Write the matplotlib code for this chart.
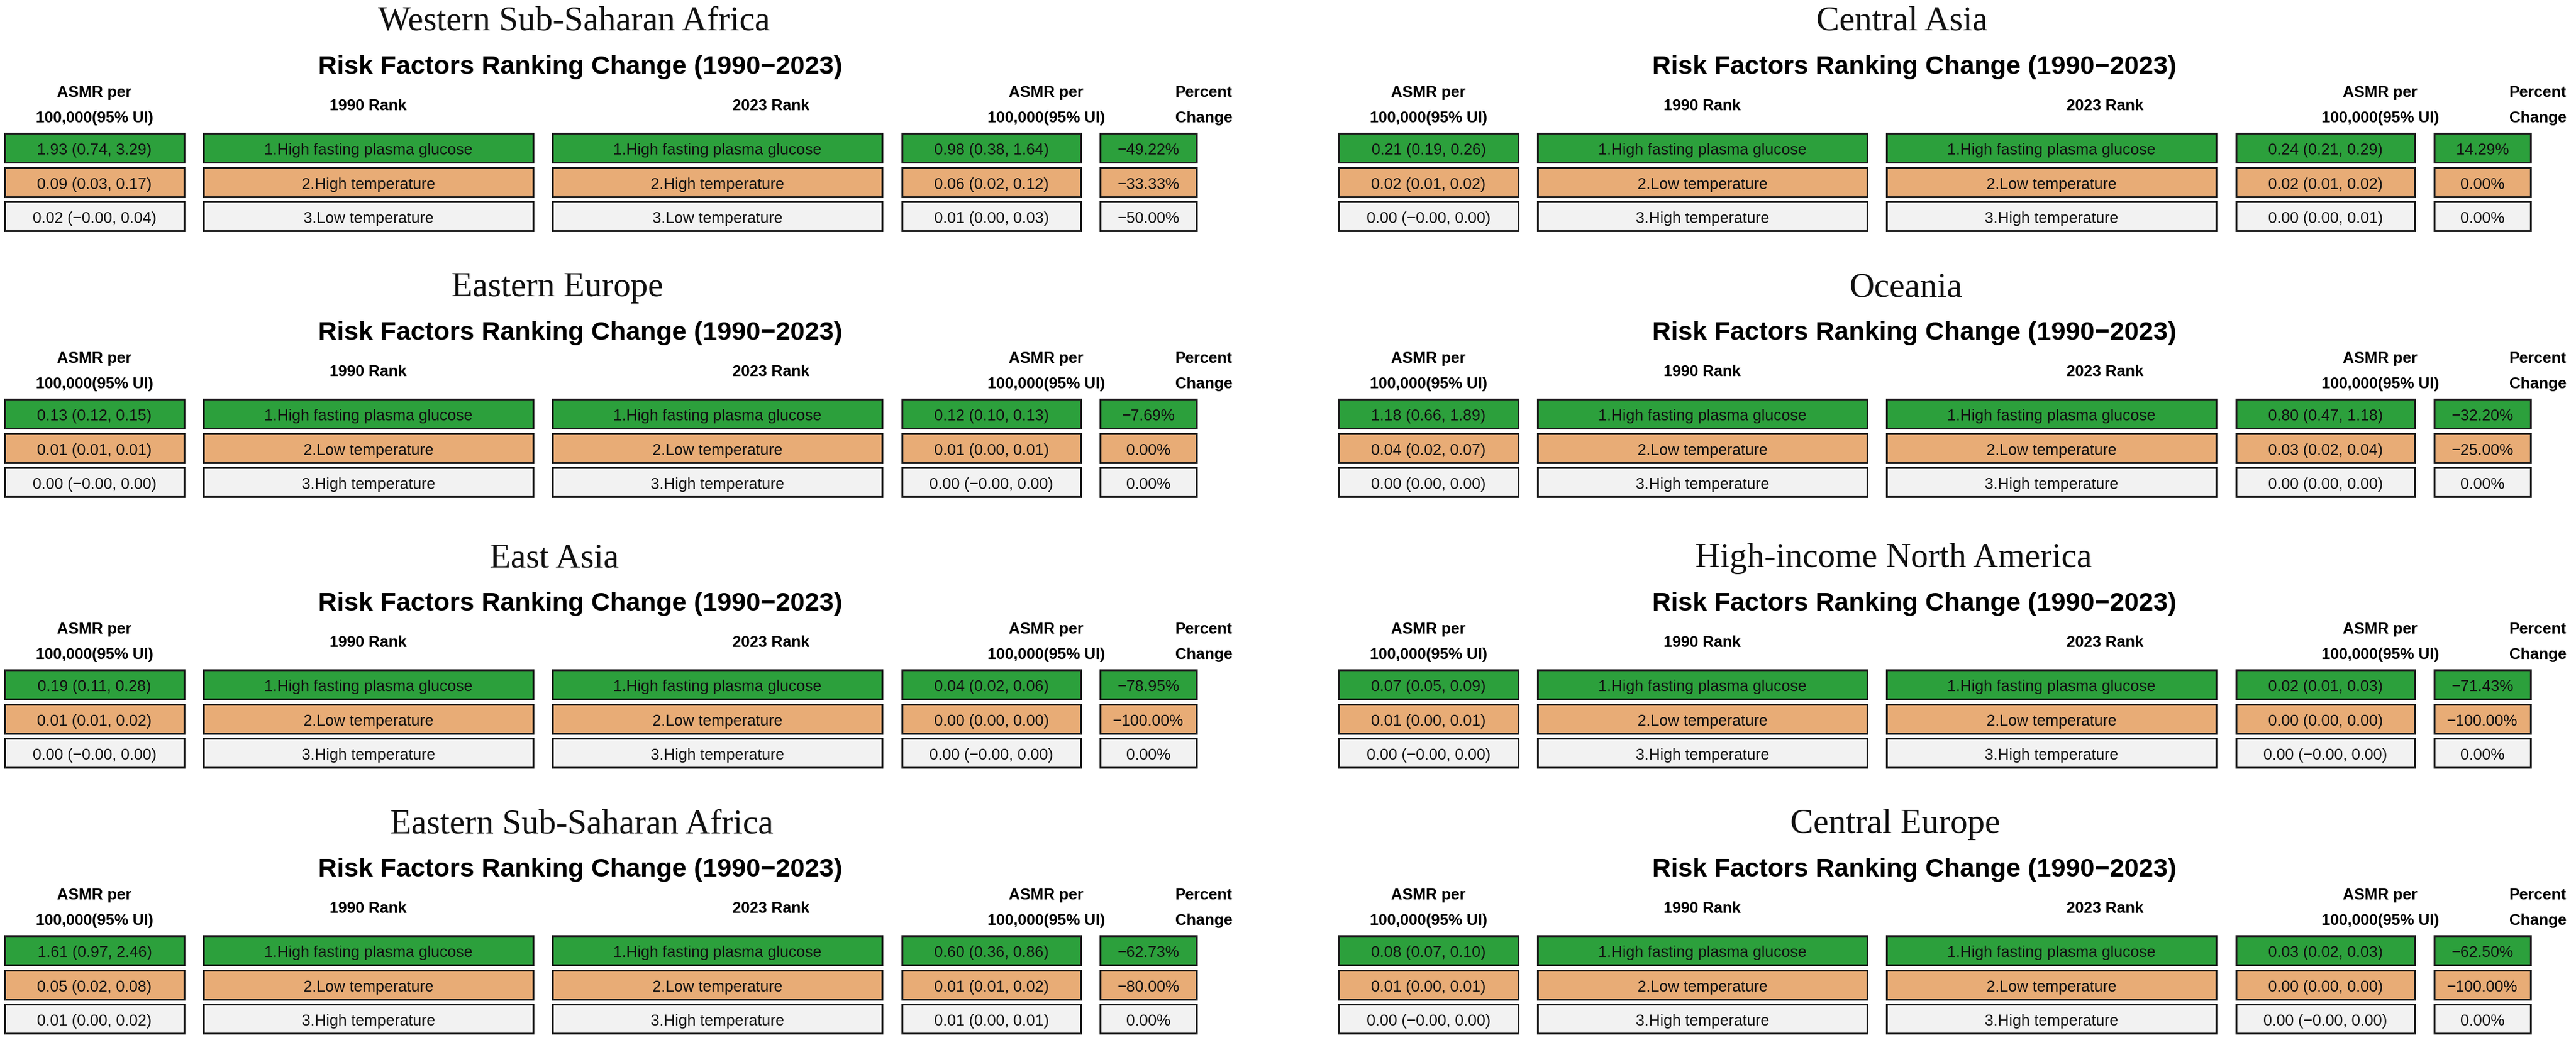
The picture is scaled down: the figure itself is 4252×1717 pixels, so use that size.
import matplotlib
matplotlib.use("Agg")
import matplotlib.pyplot as plt
from matplotlib.patches import Rectangle

# ---- data -------------------------------------------------------------
regions = ["Western Sub-Saharan Africa", "Eastern Europe", "East Asia",
           "Eastern Sub-Saharan Africa", "Central Asia", "Oceania",
           "High-income North America", "Central Europe"]

HFPG = "High fasting plasma glucose"
HT = "High temperature"
LT = "Low temperature"

rank_1990 = [[HFPG, HT, LT], [HFPG, LT, HT], [HFPG, LT, HT], [HFPG, LT, HT],
             [HFPG, LT, HT], [HFPG, LT, HT], [HFPG, LT, HT], [HFPG, LT, HT]]
rank_2023 = [[HFPG, HT, LT], [HFPG, LT, HT], [HFPG, LT, HT], [HFPG, LT, HT],
             [HFPG, LT, HT], [HFPG, LT, HT], [HFPG, LT, HT], [HFPG, LT, HT]]

# ASMR per 100,000 (value, lower, upper)
asmr_1990 = [
    [(1.93, 0.74, 3.29), (0.09, 0.03, 0.17), (0.02, -0.0, 0.04)],
    [(0.13, 0.12, 0.15), (0.01, 0.01, 0.01), (0.00, -0.0, 0.00)],
    [(0.19, 0.11, 0.28), (0.01, 0.01, 0.02), (0.00, -0.0, 0.00)],
    [(1.61, 0.97, 2.46), (0.05, 0.02, 0.08), (0.01, 0.00, 0.02)],
    [(0.21, 0.19, 0.26), (0.02, 0.01, 0.02), (0.00, -0.0, 0.00)],
    [(1.18, 0.66, 1.89), (0.04, 0.02, 0.07), (0.00, 0.00, 0.00)],
    [(0.07, 0.05, 0.09), (0.01, 0.00, 0.01), (0.00, -0.0, 0.00)],
    [(0.08, 0.07, 0.10), (0.01, 0.00, 0.01), (0.00, -0.0, 0.00)],
]
asmr_2023 = [
    [(0.98, 0.38, 1.64), (0.06, 0.02, 0.12), (0.01, 0.00, 0.03)],
    [(0.12, 0.10, 0.13), (0.01, 0.00, 0.01), (0.00, -0.0, 0.00)],
    [(0.04, 0.02, 0.06), (0.00, 0.00, 0.00), (0.00, -0.0, 0.00)],
    [(0.60, 0.36, 0.86), (0.01, 0.01, 0.02), (0.01, 0.00, 0.01)],
    [(0.24, 0.21, 0.29), (0.02, 0.01, 0.02), (0.00, 0.00, 0.01)],
    [(0.80, 0.47, 1.18), (0.03, 0.02, 0.04), (0.00, 0.00, 0.00)],
    [(0.02, 0.01, 0.03), (0.00, 0.00, 0.00), (0.00, -0.0, 0.00)],
    [(0.03, 0.02, 0.03), (0.00, 0.00, 0.00), (0.00, -0.0, 0.00)],
]
pct_change = [
    [-49.22, -33.33, -50.00],
    [-7.69, 0.00, 0.00],
    [-78.95, -100.00, 0.00],
    [-62.73, -80.00, 0.00],
    [14.29, 0.00, 0.00],
    [-32.20, -25.00, 0.00],
    [-71.43, -100.00, 0.00],
    [-62.50, -100.00, 0.00],
]

# ---- layout (pixels) --------------------------------------------------
W, H = 4252, 1717
col_x = [0, 2202]
row_y = [0, 439, 886, 1325]
title_x = [948, 920, 915, 960, 937, 944, 923, 926]
box_x = [(8, 304), (336, 880), (912, 1456), (1489, 1784), (1816, 1975)]
head_x = [156, 608, 1273, 1727, 1987]
row_tops = [220, 277, 333]
row_h = 48
row_colors = ["#2ca03c", "#e8ac76", "#f2f2f2"]
SANS = "Liberation Sans"
SERIF = "Liberation Serif"


def fmt_ci(v):
    s = f"{v[0]:.2f} ({v[1]:.2f}, {v[2]:.2f})"
    return s.replace("-", "\u2212")


def fmt_pct(p):
    return f"{p:.2f}%".replace("-", "\u2212")


fig = plt.figure(figsize=(W / 100, H / 100), dpi=100)
ax = fig.add_axes([0, 0, 1, 1])
ax.set_xlim(0, W)
ax.set_ylim(H, 0)
ax.axis("off")

for i, reg in enumerate(regions):
    x0 = col_x[i // 4]
    y0 = row_y[i % 4]
    top = y0 + row_tops[0]

    ax.text(x0 + title_x[i], top - 170, reg, ha="center", va="baseline",
            family=SERIF, fontsize=41, color="#111111")
    ax.text(x0 + 958, top - 98, "Risk Factors Ranking Change (1990\u22122023)",
            ha="center", va="baseline", family=SANS, fontsize=31,
            fontweight="bold")

    # column headers
    hdr = dict(ha="center", va="baseline", family=SANS, fontsize=18.5,
               fontweight="bold")
    for k in (0, 3):
        ax.text(x0 + head_x[k], top - 60, "ASMR per", **hdr)
        ax.text(x0 + head_x[k], top - 18, "100,000(95% UI)", **hdr)
    ax.text(x0 + head_x[1], top - 38, "1990 Rank", **hdr)
    ax.text(x0 + head_x[2], top - 38, "2023 Rank", **hdr)
    ax.text(x0 + head_x[4], top - 60, "Percent", **hdr)
    ax.text(x0 + head_x[4], top - 18, "Change", **hdr)

    for r in range(3):
        ry = y0 + row_tops[r]
        cells = [fmt_ci(asmr_1990[i][r]),
                 f"{r + 1}.{rank_1990[i][r]}",
                 f"{r + 1}.{rank_2023[i][r]}",
                 fmt_ci(asmr_2023[i][r]),
                 fmt_pct(pct_change[i][r])]
        for (bx0, bx1), label in zip(box_x, cells):
            ax.add_patch(Rectangle((x0 + bx0, ry), bx1 - bx0, row_h,
                                   facecolor=row_colors[r], edgecolor="#1a1a1a",
                                   linewidth=2.2))
            ax.text(x0 + (bx0 + bx1) / 2, ry + 35, label, ha="center",
                    va="baseline", family=SANS, fontsize=18.5, color="#111111")

fig.savefig("out.png", dpi=100)
